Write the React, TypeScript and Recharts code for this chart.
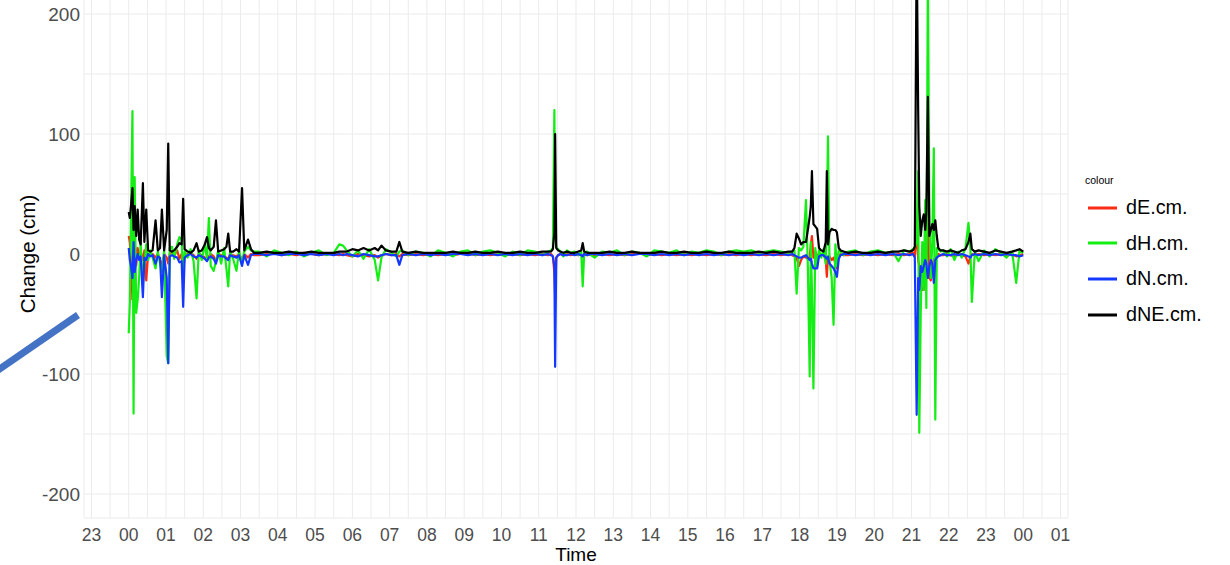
import React from 'react';
import { LineChart, Line, XAxis, YAxis, CartesianGrid } from 'recharts';

// hours since 00:00 of the day shown
const hours = [
  // 00-03
  0.00, 0.03, 0.06, 0.10, 0.13, 0.16, 0.20, 0.24, 0.28, 0.32,
  0.38, 0.42, 0.47, 0.52, 0.58, 0.64, 0.72, 0.78, 0.84, 0.89,
  0.95, 1.02, 1.06, 1.10, 1.16, 1.22, 1.30, 1.36, 1.42, 1.46,
  1.50, 1.58, 1.66, 1.74, 1.82, 1.88, 1.96, 2.04, 2.10, 2.15,
  2.20, 2.28, 2.34, 2.40, 2.48, 2.56, 2.62, 2.67, 2.72, 2.80,
  2.89, 2.96, 3.04, 3.10, 3.20, 3.28, 3.36,
  // 03-11
  3.50, 3.70, 3.90, 4.10, 4.30, 4.50, 4.70, 4.90, 5.10, 5.30,
  5.50, 5.65, 5.75, 5.85, 6.00, 6.15, 6.30, 6.45, 6.60, 6.69,
  6.78, 6.90, 7.05, 7.18, 7.26, 7.34, 7.50, 7.70, 7.90, 8.10,
  8.30, 8.50, 8.70, 8.90, 9.10, 9.30, 9.50, 9.70, 9.90, 10.10,
  10.30, 10.50, 10.70, 10.90, 11.10, 11.25,
  // 11-12
  11.33, 11.38, 11.42, 11.44, 11.47, 11.52, 11.58, 11.66, 11.76, 11.86,
  11.96, 12.06, 12.14, 12.18, 12.22, 12.30, 12.40,
  // 12-17
  12.50, 12.70, 12.90, 13.10, 13.30, 13.50, 13.70, 13.90, 14.10, 14.30,
  14.50, 14.70, 14.90, 15.10, 15.30, 15.50, 15.70, 15.90, 16.10, 16.30,
  16.50, 16.70, 16.90, 17.10, 17.30, 17.50, 17.70,
  // 17-19
  17.80, 17.86, 17.92, 17.98, 18.04, 18.10, 18.17, 18.22, 18.27, 18.30,
  18.33, 18.37, 18.42, 18.47, 18.52, 18.58, 18.64, 18.70, 18.73, 18.76,
  18.80, 18.86, 18.91, 18.96, 19.00, 19.05, 19.10, 19.18,
  // 19-21
  19.30, 19.50, 19.70, 19.90, 20.10, 20.30, 20.50, 20.65, 20.80, 20.95,
  // 21-22
  21.04, 21.09, 21.14, 21.18, 21.21, 21.25, 21.29, 21.33, 21.37, 21.40,
  21.44, 21.48, 21.52, 21.56, 21.60, 21.64, 21.68, 21.72, 21.78,
  // 22-24
  21.85, 21.95, 22.05, 22.15, 22.25, 22.35, 22.45, 22.53, 22.58, 22.62,
  22.70, 22.80, 22.95, 23.10, 23.25, 23.40, 23.55, 23.70, 23.81, 23.90, 24.00,
];

const dE = [
  15, 10, -5, -38, 0, 12, -10, 5, -3, 2,
  -5, 3, -22, 0, -1, 0, -3, 0, -5, -10,
  0, -3, -8, 0, 2, -1, 3, -4, 0, -14,
  -2, 0, 1, -1, -4, 0, -1, -3, -5, -2,
  0, -2, -6, 0, -1, -2, -3, -4, 0, -1,
  -2, 0, -5, 0, -3, 0, -1,
  -1, 0, 1, -1, 0, -1, 1, 0, -1, 0,
  0, -1, 0, -1, -2, 0, -1, -2, -1, -3,
  -1, 0, -1, 0, -2, 0, -1, 0, -1, 0,
  -1, 0, -1, 0, 1, -1, 0, -1, 0, -1,
  0, -1, 0, -1, 0, -1,
  0, -2, -16, -33, -3, -1, 0, -1, 0, -1,
  0, -1, 0, -2, 0, -1, 0,
  -1, 0, -1, 0, -1, 0, 1, -1, 0, -1,
  0, -1, 0, -1, 0, -1, 0, -1, 0, -1,
  0, -1, 0, -1, 0, -1, 0,
  -1, -2, -3, -10, -5, -2, -3, -4, -3, 8,
  15, -3, 2, -2, 0, -1, 0, -5, -19, -3,
  -2, -5, -3, -8, -12, -2, 0, -1,
  -1, 0, -1, 0, -1, 0, -1, 0, -1, 0,
  1, -2, 20, -5, -10, -25, -30, -30, -15, -10,
  40, -20, -22, -12, -5, -3, -2, 0, -1,
  -1, 0, -1, -2, 0, -1, -2, -8, -2, 0,
  -1, 0, -1, 0, -1, 0, -1, 0, -2, -1, 0,
];

const dH = [
  -66, -40, 30, 119, -133, 64, -49, -38, -20, 10,
  -25, -10, 8, -5, 3, -3, -12, 2, -8, -15,
  3, -85, -91, 5, 6, -4, 8, 14, 12, -20,
  2, -3, 4, -6, -37, 3, -5, 8, -4, 30,
  -10, -14, -6, 3, -8, 5, -12, -27, 2, -4,
  -14, 3, -8, 2, 6, 3, 2,
  2, -2, 3, 1, -1, 2, -2, 1, 3, -1,
  1, 8, 7, 3, -2, 3, -4, 4, -5, -22,
  -3, 4, 1, -2, 2, 3, -1, 2, 1, -2,
  3, 1, -2, 2, 3, -1, 2, 3, 1, -2,
  2, -1, 3, 2, -1, 2,
  3, 5, 120, 20, 6, 4, 2, -2, 3, 1,
  2, -1, 2, -27, 1, 2, -1,
  -3, 2, 1, 3, -1, 2, 1, -2, 3, 2,
  1, 3, -1, 2, 1, 3, 2, -1, 2, 3,
  2, 3, 1, 2, 3, 2, 1,
  2, 3, -33, 5, 3, 6, 45, -10, -102, 10,
  -30, -112, 5, -10, 3, -3, 4, -8, 30, 98,
  -5, -20, -59, 8, -10, 3, 2, -1,
  2, 3, -1, 2, 3, 1, 2, -6, 3, 2,
  4, 6, 10, 69, -149, -47, 10, -30, 45, -45,
  235, 30, -20, 10, 88, -138, 5, 4, 2,
  3, -2, 4, -5, 2, -3, 5, 26, 5, -40,
  2, -6, 3, -2, 4, 1, -3, 2, -24, 3, 1,
];

const dN = [
  5, -5, -10, -20, 10, -15, -5, 0, -5, -2,
  -36, -3, -5, 0, -2, -1, -8, -2, -3, -36,
  -1, -20, -91, -2, -1, -2, -3, -7, -6, -44,
  -3, -1, 0, -2, -3, -1, -2, -4, -6, -3,
  -2, -4, -8, -1, -2, -2, -4, -5, -1, -2,
  -3, -1, -10, -1, -9, -1, 0,
  0, -1, 0, -1, 0, 0, -1, 0, -1, 0,
  -1, 0, -1, 0, -1, -2, 0, -1, -2, -2,
  -1, 0, -1, -1, -9, -1, 0, -1, 0, -1,
  0, -1, 0, 0, -1, 0, -1, 0, -1, 0,
  -1, 0, -1, 0, -1, 0,
  -1, -2, -10, -94, -3, -1, 0, -1, -1, 0,
  -1, 0, -1, -2, 0, -1, 0,
  0, -1, 0, -1, 0, -1, 0, 0, -1, 0,
  -1, 0, -1, 0, -1, 0, -1, 0, -1, 0,
  -1, 0, -1, 0, -1, 0, -1,
  0, -1, -2, -3, -3, -2, -1, -3, -5, -4,
  -8, -12, -12, -12, -2, -1, -1, -3, -4, -2,
  -8, -10, -12, -15, -19, -4, -1, 0,
  0, -1, 0, -1, 0, -1, 0, -1, 0, -1,
  0, -3, -134, -20, -30, -10, -15, -10, -5, -8,
  -20, -10, -5, -8, -24, -5, -3, -2, -1,
  0, -1, -1, 0, -1, 0, -1, -2, -3, -1,
  0, -1, 0, -1, 0, -1, 0, -1, -1, -2, -1,
];

const dNE = [
  35, 30, 40, 55, 20, 40, 15, 37, 12, 8,
  59, 10, 37, 3, 2, 3, 28, 3, 5, 37,
  3, 20, 92, 3, 2, 3, 6, 9, 8, 46,
  4, 2, 1, 3, 9, 2, 3, 8, 14, 5,
  3, 6, 28, 2, 3, 4, 6, 17, 2, 2,
  4, 2, 55, 3, 12, 4, 1,
  1, 2, 1, 1, 2, 1, 1, 2, 1, 1,
  1, 2, 2, 2, 4, 3, 5, 3, 5, 3,
  7, 3, 2, 2, 10, 2, 1, 2, 1, 1,
  1, 1, 2, 1, 1, 2, 1, 1, 2, 1,
  1, 2, 1, 1, 2, 2,
  2, 4, 18, 100, 5, 3, 2, 1, 2, 1,
  1, 2, 3, 9, 2, 1, 1,
  1, 1, 2, 1, 1, 2, 1, 1, 1, 2,
  1, 1, 2, 1, 1, 2, 1, 1, 2, 1,
  1, 1, 2, 1, 2, 1, 2,
  2, 5, 17, 13, 8, 10, 10, 20, 31, 40,
  69, 25, 23, 21, 5, 3, 2, 10, 69, 8,
  18, 21, 20, 20, 18, 5, 3, 2,
  1, 2, 1, 1, 2, 1, 2, 2, 3, 2,
  3, 6, 260, 120, 40, 15, 28, 33, 20, 35,
  131, 15, 20, 25, 20, 28, 15, 5, 3,
  3, 2, 3, 2, 1, 3, 4, 10, 17, 4,
  2, 3, 2, 1, 3, 2, 1, 2, 3, 4, 2,
];

const hourTicks = [-1, 0, 1, 2, 3, 4, 5, 6, 7, 8, 9, 10, 11, 12, 13, 14, 15, 16, 17, 18, 19, 20, 21, 22, 23, 24, 25];
const hourLabels = ['23', '00', '01', '02', '03', '04', '05', '06', '07', '08', '09', '10', '11', '12', '13', '14', '15', '16', '17', '18', '19', '20', '21', '22', '23', '00', '01'];
const yTicks = [-200, -150, -100, -50, 0, 50, 100, 150, 200];

const series = [
  { key: 'dE', name: 'dE.cm.', color: '#ff2a14' },
  { key: 'dH', name: 'dH.cm.', color: '#14ee14' },
  { key: 'dN', name: 'dN.cm.', color: '#1438ff' },
  { key: 'dNE', name: 'dNE.cm.', color: '#000000' },
];

const X_DOMAIN: [number, number] = [-1.2, 25.2];
const FONT = '"Liberation Sans", Arial, sans-serif';

const rows = hours.map((t, i) => ({ t, dE: dE[i], dH: dH[i], dN: dN[i], dNE: dNE[i] }));

// major hour lines plus minor half-hour lines
const xTicks = hourTicks
  .flatMap(h => [h - 0.5, h])
  .filter(t => t >= X_DOMAIN[0] && t <= X_DOMAIN[1]);

const xLabel = (v: number) => {
  const i = hourTicks.indexOf(v);
  return i >= 0 ? hourLabels[i] : '';
};

const yLabel = (v: number) => (v % 100 === 0 ? String(v) : '');

// legend sits to the right of the panel (container is shifted up 10px)
const ColourLegend = () => (
  <div style={{ position: 'absolute', left: 1085, top: 182, fontFamily: FONT }}>
    <div style={{ fontSize: 10.5, lineHeight: '16px', color: '#000' }}>colour</div>
    {series.map((s, i) => (
      <div
        key={s.key}
        style={{ position: 'absolute', left: 0, top: 17.7 + i * 35.6, height: 36, display: 'flex', alignItems: 'center', whiteSpace: 'nowrap' }}
      >
        <svg width={33} height={10}>
          <line x1={3} y1={5} x2={32} y2={5} stroke={s.color} strokeWidth={3} />
        </svg>
        <span style={{ fontSize: 19.8, color: '#000', marginLeft: 8 }}>{s.name}</span>
      </div>
    ))}
  </div>
);

export default function App() {
  return (
    <div style={{ position: 'absolute', left: 0, top: -10, width: 1230, height: 575, background: '#fff' }}>
      <LineChart width={1230} height={575} data={rows} margin={{ top: 0, right: 162, bottom: 0, left: 0 }}>
        <CartesianGrid stroke="#ebebeb" strokeWidth={1} />
        <XAxis
          dataKey="t"
          type="number"
          domain={X_DOMAIN}
          ticks={xTicks}
          interval={0}
          tickFormatter={xLabel}
          axisLine={false}
          tickLine={false}
          tickSize={0}
          tickMargin={11}
          height={47}
          tick={{ fill: '#4d4d4d', fontSize: 17.5, fontFamily: FONT }}
          label={{ value: 'Time', position: 'insideBottom', offset: 4, fill: '#000', fontSize: 19, fontFamily: FONT }}
        />
        <YAxis
          type="number"
          domain={[-220, 220]}
          allowDataOverflow
          ticks={yTicks}
          interval={0}
          tickFormatter={yLabel}
          axisLine={false}
          tickLine={false}
          tickSize={0}
          tickMargin={4}
          width={84}
          tick={{ fill: '#4d4d4d', fontSize: 19, fontFamily: FONT }}
          label={{
            value: 'Change (cm)', angle: -90, position: 'insideLeft', offset: 28,
            fill: '#000', fontSize: 20.5, fontFamily: FONT, style: { textAnchor: 'middle' },
          }}
        />
        {series.map(s => (
          <Line
            key={s.key}
            type="linear"
            dataKey={s.key}
            name={s.name}
            stroke={s.color}
            strokeWidth={2.2}
            strokeLinejoin="round"
            dot={false}
            activeDot={false}
            isAnimationActive={false}
          />
        ))}
      </LineChart>
      <ColourLegend />
      <svg width={100} height={420} style={{ position: 'absolute', left: 0, top: 10, pointerEvents: 'none' }}>
        <line x1={-6} y1={373} x2={78} y2={315} stroke="#4472c4" strokeWidth={7} />
      </svg>
    </div>
  );
}
